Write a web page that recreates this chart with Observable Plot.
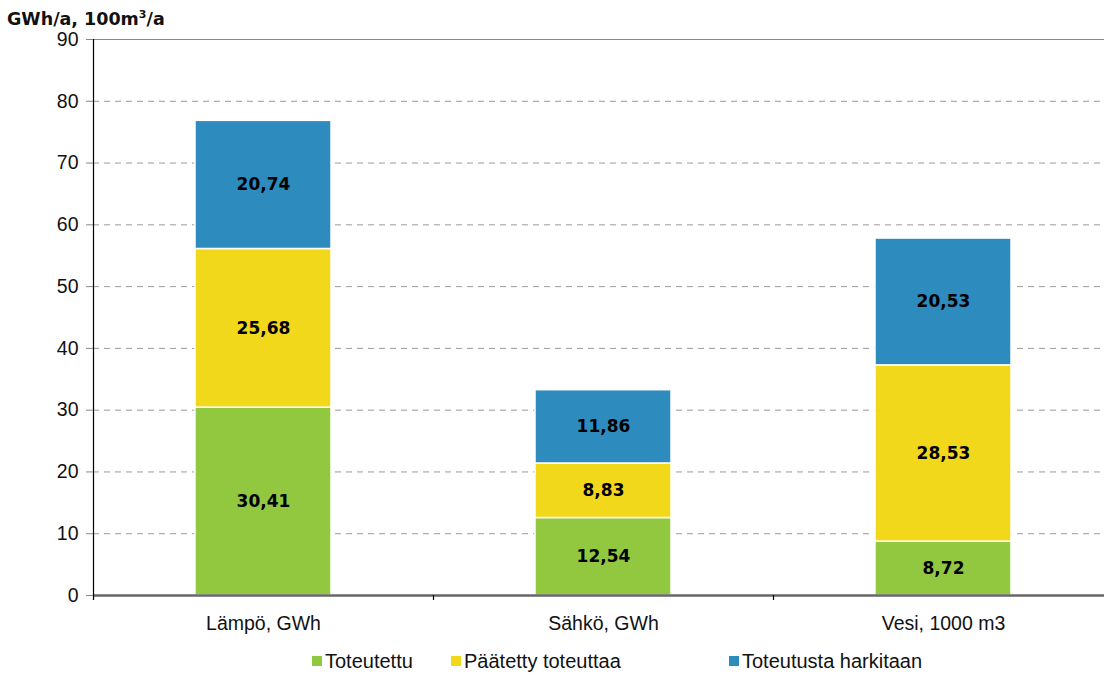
<!DOCTYPE html>
<html>
<head>
<meta charset="utf-8">
<script src="https://cdn.jsdelivr.net/npm/d3@7"></script>
<script src="https://cdn.jsdelivr.net/npm/@observablehq/plot@0.6"></script>
<style>
  body { margin: 0; background: #fff; font-family: "Liberation Sans", Arial, sans-serif; }
  #wrap { position: relative; width: 1104px; height: 675px; overflow: hidden; }
  #title { position: absolute; left: 7px; top: 5px; font-family: "DejaVu Sans", sans-serif; font-weight: bold; font-size: 17.5px; line-height: 20px; color: #111; white-space: nowrap; }
  #chart { position: absolute; left: 0; top: 25px; width: 1113px; }
  #chart svg { max-width: none !important; }
  .leg { position: absolute; top: 649px; font-size: 20px; line-height: 24px; color: #111; display: flex; align-items: center; white-space: nowrap; }
  .leg span.sw { display: inline-block; width: 10px; height: 10px; margin-right: 3px; }
</style>
</head>
<body>
<div id="wrap">
  <div id="title">GWh/a, 100m<sup style="font-size:11px;vertical-align:7px;">3</sup>/a</div>
  <div id="chart"></div>
  <div id="legend"></div>
</div>
<script>
const categories = ["Lämpö, GWh", "Sähkö, GWh", "Vesi, 1000 m3"];
const series = ["Toteutettu", "Päätetty toteuttaa", "Toteutusta harkitaan"];
const toteutettu = [30.41, 12.54, 8.72];
const paatetty = [25.68, 8.83, 28.53];
const harkitaan = [20.74, 11.86, 20.53];
const colors = ["#92c740", "#f2d81a", "#2d8bbd"];
const yTicks = [0, 10, 20, 30, 40, 50, 60, 70, 80, 90];
const legendLeft = [312, 451, 729];

const valuesBySeries = [toteutettu, paatetty, harkitaan];
const data = [];
series.forEach((s, si) => {
  categories.forEach((c, ci) => {
    data.push({cat: c, series: s, value: valuesBySeries[si][ci]});
  });
});
const fmt = v => v.toFixed(2).replace(".", ",");

const W = 1113, mL = 93, mR = 0;
const step = (W - mL - mR) / categories.length;

const chart = Plot.plot({
  width: W,
  height: 620,
  marginLeft: mL,
  marginRight: mR,
  marginTop: 14,
  marginBottom: 50,
  style: {fontFamily: "'Liberation Sans', Arial, sans-serif", fontSize: "19.5px", color: "#111", maxWidth: "none"},
  x: {domain: categories, paddingInner: 0.6, paddingOuter: 0.3, label: null},
  y: {domain: [0, 90], label: null},
  color: {domain: series, range: colors},
  marks: [
    Plot.ruleY(yTicks.filter(t => t > 0 && t < 90), {stroke: "#9a9a9a", strokeDasharray: "6,5", strokeWidth: 1}),
    Plot.ruleY([90], {stroke: "#888", strokeWidth: 1}),
    Plot.barY(data, {x: "cat", y: "value", fill: "series", stroke: "#fff", strokeWidth: 1.5}),
    Plot.text(data, Plot.stackY({x: "cat", y: "value", z: "series", text: d => fmt(d.value), fontFamily: "'DejaVu Sans', sans-serif", fontWeight: "bold", fontSize: 17, fill: "#000"})),
    Plot.ruleY([0], {stroke: "#666", strokeWidth: 2.5}),
    Plot.ruleX([categories[0]], {x: d => d, y1: 90, y2: -0.8, dx: -step / 2, stroke: "#000", strokeWidth: 1.2}),
    Plot.ruleX(categories.slice(1), {x: d => d, y1: 0, y2: -0.8, dx: -step / 2, stroke: "#000", strokeWidth: 1.2}),
    Plot.axisY({ticks: yTicks, tickSize: 7, tickPadding: 8, stroke: "#888", fill: "#111"}),
    Plot.axisX({tickSize: 0, tickPadding: 21, fill: "#111"})
  ]
});
chart.style.maxWidth = "none";
document.getElementById("chart").appendChild(chart);

const legend = document.getElementById("legend");
series.forEach((s, i) => {
  const d = document.createElement("div");
  d.className = "leg";
  d.style.left = legendLeft[i] + "px";
  d.innerHTML = `<span class="sw" style="background:${colors[i]}"></span>${s}`;
  legend.appendChild(d);
});
</script>
</body>
</html>
